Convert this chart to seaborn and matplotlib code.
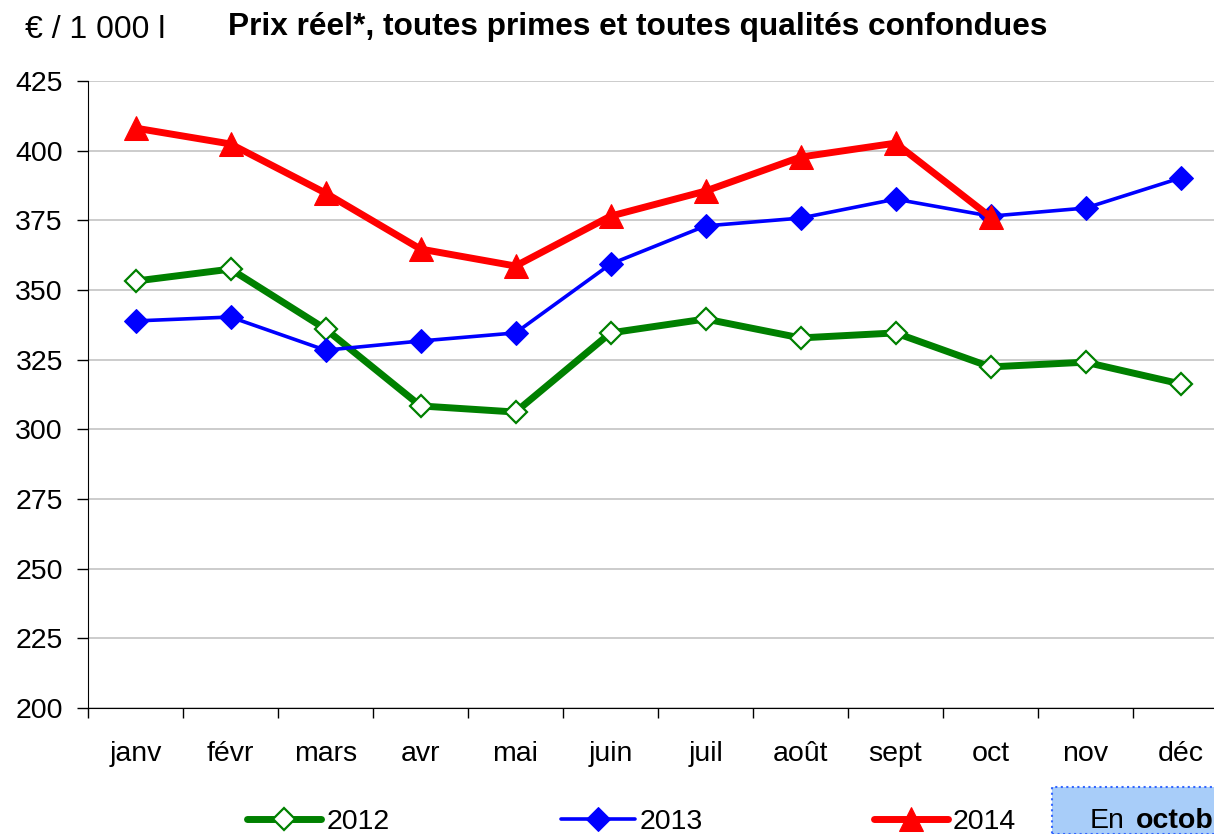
import pandas as pd
import matplotlib.pyplot as plt
import seaborn as sns
from matplotlib.patches import Rectangle

# data (€ / 1 000 l)
months = ["janv", "févr", "mars", "avr", "mai", "juin", "juil", "août", "sept", "oct", "nov", "déc"]
prix_2012 = [353.2, 357.5, 336.0, 308.4, 306.2, 334.6, 339.6, 332.8, 334.6, 322.4, 324.1, 316.3]
prix_2013 = [338.9, 340.3, 328.4, 331.7, 334.6, 359.3, 373.0, 375.8, 382.6, 376.5, 379.4, 390.2]
prix_2014 = [408.1, 402.4, 384.8, 364.7, 358.6, 376.5, 385.5, 397.7, 402.7, 376.2]
y_ticks = [200, 225, 250, 275, 300, 325, 350, 375, 400, 425]

sns.set_style("white")
plt.rcParams["font.family"] = ["Liberation Sans", "DejaVu Sans"]
plt.rcParams["text.color"] = "black"
plt.rcParams["xtick.color"] = "black"
plt.rcParams["ytick.color"] = "black"

df12 = pd.DataFrame({"mois": range(12), "prix": prix_2012})
df13 = pd.DataFrame({"mois": range(12), "prix": prix_2013})
df14 = pd.DataFrame({"mois": range(len(prix_2014)), "prix": prix_2014})

fig = plt.figure(figsize=(12.14, 8.34), dpi=100)
ax = fig.add_axes([88 / 1214, 126 / 834, 1140 / 1214, 627 / 834])

sns.lineplot(data=df12, x="mois", y="prix", ax=ax, color="#008000", lw=5,
             marker="D", ms=11.5, mfc="white", mec="#008000", mew=1.6,
             label="2012", zorder=3)
sns.lineplot(data=df13, x="mois", y="prix", ax=ax, color="#0000ff", lw=2.6,
             marker="D", ms=12, mfc="#0000ff", mec="#0000ff",
             label="2013", zorder=4)
sns.lineplot(data=df14, x="mois", y="prix", ax=ax, color="#ff0000", lw=5,
             marker="^", ms=17, mfc="#ff0000", mec="#ff0000",
             label="2014", zorder=5)

ax.set_xlim(-0.5, 11.5)
ax.set_ylim(200, 425)
ax.set_yticks(y_ticks)
ax.set_xticks(range(12))
ax.set_xticklabels(months)
ax.set_xticks([i - 0.5 for i in range(13)], minor=True)
ax.tick_params(axis="x", which="major", length=0, labelsize=20.5, pad=24)
ax.tick_params(axis="x", which="minor", length=7, width=1, color="black", direction="out", bottom=True)
ax.tick_params(axis="y", length=8, width=1, color="black", direction="out", left=True, labelsize=20.5, pad=10)
ax.yaxis.grid(True, color="#c8c8c8", lw=1.3)
ax.set_axisbelow(True)
for s in ["top", "right"]:
    ax.spines[s].set_visible(False)
ax.spines["left"].set_color("black")
ax.spines["bottom"].set_color("black")
ax.set_xlabel("")
ax.set_ylabel("")

ax.get_legend().remove()
handles, labels = ax.get_legend_handles_labels()
fig.legend(handles, labels, loc="center left", bbox_to_anchor=(236 / 1214, 12 / 834),
           ncol=3, frameon=False, handlelength=2.6, handletextpad=0.18,
           columnspacing=6.0, borderaxespad=0,
           prop={"family": ["Liberation Sans", "DejaVu Sans"], "size": 20.5})

fig.text(25 / 1214, 1 - 30 / 834, "€ / 1 000 l", fontsize=23, va="center", ha="left")
fig.text(228 / 1214, 1 - 27 / 834, "Prix réel*, toutes primes et toutes qualités confondues",
         fontsize=22.8, fontweight="bold", va="center", ha="left")

# boîte de commentaire coupée en bas à droite
fig.patches.append(Rectangle((1052 / 1214, 0), 200 / 1214, 47 / 834, transform=fig.transFigure,
                             facecolor="#a8cdf9", edgecolor="#3366ff", lw=1.5, ls=":"))
fig.text(1090 / 1214, 13 / 834, "En", fontsize=20.5, va="center", ha="left")
fig.text(1136 / 1214, 13 / 834, "octob", fontsize=20.5, fontweight="bold", va="center", ha="left")

plt.savefig("out.png", dpi=100)
